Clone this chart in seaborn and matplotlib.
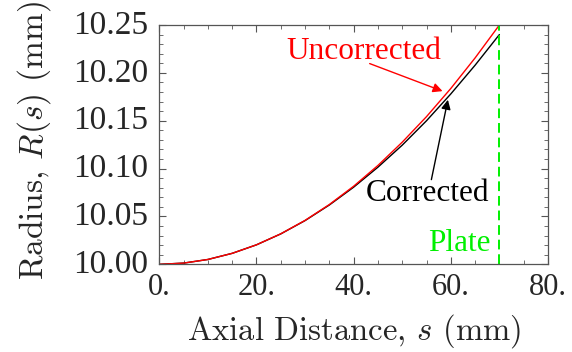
import numpy as np
import pandas as pd
import matplotlib
matplotlib.use("Agg")
import matplotlib.pyplot as plt
import matplotlib.transforms as mtransforms
import seaborn as sns
from matplotlib.ticker import MultipleLocator, FixedLocator

# Data
s_mm = [0, 5, 10, 15, 20, 25, 30, 35, 40, 45, 50, 55, 60, 65, 70]
r_uncorrected = [10.0000, 10.0013, 10.0051, 10.0115, 10.0204, 10.0319, 10.0459,
                 10.0625, 10.0816, 10.1033, 10.1276, 10.1543, 10.1837, 10.2156, 10.2500]
r_corrected = [10.0000, 10.0013, 10.0051, 10.0115, 10.0204, 10.0318, 10.0457,
               10.0620, 10.0806, 10.1015, 10.1245, 10.1500, 10.1780, 10.2080, 10.2400]
plate_s = 70
x_ticks = [0, 20, 40, 60, 80]
x_tick_labels = ["0.", "20.", "40.", "60.", "80."]
y_ticks = [10.00, 10.05, 10.10, 10.15, 10.20, 10.25]
y_tick_labels = ["10.00", "10.05", "10.10", "10.15", "10.20", "10.25"]

sns.set_style("ticks")
plt.rcParams["font.family"] = ["Liberation Serif", "DejaVu Serif"]
plt.rcParams["mathtext.fontset"] = "cm"

df = pd.concat([
    pd.DataFrame({"s": s_mm, "R": r_corrected, "kind": "Corrected"}),
    pd.DataFrame({"s": s_mm, "R": r_uncorrected, "kind": "Uncorrected"}),
])

fig = plt.figure(figsize=(5.72, 3.52), dpi=100)
ax = fig.add_axes([0.2785, 0.249, 0.6795, 0.680])

sns.lineplot(data=df, x="s", y="R", hue="kind",
             palette={"Corrected": "black", "Uncorrected": "red"},
             linewidth=1.0, legend=False, ax=ax, estimator=None, sort=False)

ax.axvline(plate_s, color="#00f000", linestyle=(0, (5, 2.5)), linewidth=1.4)

ax.set_xlim(0, 80)
ax.set_ylim(10.0, 10.25)
ax.xaxis.set_major_locator(FixedLocator(x_ticks))
ax.set_xticklabels(x_tick_labels)
ax.yaxis.set_major_locator(FixedLocator(y_ticks))
ax.set_yticklabels(y_tick_labels)
ax.xaxis.set_minor_locator(MultipleLocator(5))
ax.yaxis.set_minor_locator(MultipleLocator(0.01))
ax.tick_params(which="both", direction="in", top=True, right=True, color="#555555")
ax.tick_params(axis="x", labelsize=22, pad=6)
ax.tick_params(axis="y", labelsize=24, pad=8)
ax.tick_params(which="major", length=5, width=0.8)
ax.tick_params(which="minor", length=3, width=0.6)
shift_up = mtransforms.ScaledTranslation(0, 3 / 100, fig.dpi_scale_trans)
for lab in ax.get_yticklabels():
    lab.set_transform(lab.get_transform() + shift_up)
for sp in ax.spines.values():
    sp.set_color("#555555")
    sp.set_linewidth(0.9)

ax.set_xlabel("Axial Distance, $s$ (mm)", fontsize=23.5, family="cmr10")
ax.set_ylabel("Radius, $R(s)$ (mm)", fontsize=24, family="cmr10")
ax.xaxis.set_label_coords(0.502, -0.2)
ax.yaxis.set_label_coords(-0.274, 0.517)

ax.text(42.1, 10.222, "Uncorrected", color="red", fontsize=22.5, ha="center", va="center")
ax.annotate("", xy=(58.3, 10.1809), xytext=(43.3, 10.2097),
            arrowprops=dict(arrowstyle="-|>", color="red", lw=1.0,
                            mutation_scale=14, shrinkA=0, shrinkB=0))
ax.text(55.1, 10.074, "Corrected", color="black", fontsize=22.5, ha="center", va="center")
ax.annotate("", xy=(59.4, 10.1719), xytext=(56.0, 10.0885),
            arrowprops=dict(arrowstyle="-|>", color="black", lw=1.0,
                            mutation_scale=14, shrinkA=0, shrinkB=0))
ax.text(61.8, 10.0219, "Plate", color="#00f000", fontsize=22.5, ha="center", va="center")

fig.savefig("out.png", dpi=100)
